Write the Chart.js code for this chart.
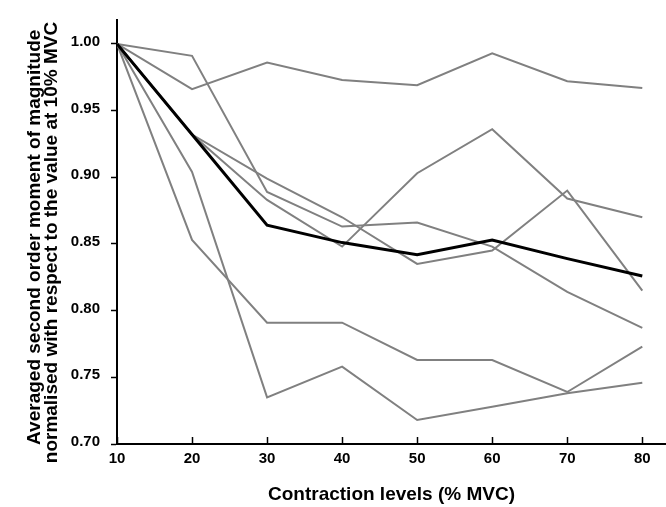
<!DOCTYPE html>
<html>
<head>
<meta charset="utf-8">
<script src="https://cdn.jsdelivr.net/npm/chart.js@4.4.1/dist/chart.umd.min.js"></script>
<style>
  html, body { margin: 0; padding: 0; background: #ffffff; }
  #wrap { position: relative; width: 666px; height: 507px; }
</style>
</head>
<body>
<div id="wrap"><canvas id="c"></canvas></div>
<script>
// ---- data ----
const levels = [10, 20, 30, 40, 50, 60, 70, 80];
const meanSeries = [1.000, 0.932, 0.864, 0.851, 0.842, 0.853, 0.839, 0.826];
const subject1 = [1.000, 0.966, 0.986, 0.973, 0.969, 0.993, 0.972, 0.967];
const subject2 = [1.000, 0.991, 0.889, 0.863, 0.866, 0.848, 0.814, 0.787];
const subject3 = [1.000, 0.932, 0.883, 0.848, 0.903, 0.936, 0.884, 0.870];
const subject4 = [1.000, 0.932, 0.899, 0.870, 0.835, 0.845, 0.890, 0.815];
const subject5 = [1.000, 0.853, 0.791, 0.791, 0.763, 0.763, 0.739, 0.773];
const subject6 = [1.000, 0.904, 0.735, 0.758, 0.718, 0.728, 0.738, 0.746];
const xTickValues = [10, 20, 30, 40, 50, 60, 70, 80];
const yTickValues = [0.70, 0.75, 0.80, 0.85, 0.90, 0.95, 1.00];
const xTitle = 'Contraction levels (% MVC)';
// trailing spaces only nudge each rotated line toward the bottom, as in the reference
const yTitle = ['Averaged second order moment of magnitude  ', 'normalised with respect to the value at 10% MVC    '];

const FONT = '"Liberation Sans", Arial, Helvetica, sans-serif';
const toPts = arr => levels.map((x, i) => ({ x: x, y: arr[i] }));

const grey = '#808080';
const subjects = [subject1, subject2, subject3, subject4, subject5, subject6];
const datasets = [{
  label: 'Mean',
  data: toPts(meanSeries),
  borderColor: '#000000',
  borderWidth: 3,
  pointRadius: 0,
  tension: 0,
  fill: false
}].concat(subjects.map((s, k) => ({
  label: 'Subject ' + (k + 1),
  data: toPts(s),
  borderColor: grey,
  borderWidth: 2,
  pointRadius: 0,
  tension: 0,
  fill: false
})));

// draws x tick marks pointing into the plot area, using the x scale
const innerXTicks = {
  id: 'innerXTicks',
  afterDraw(chart) {
    const xs = chart.scales.x;
    const ctx = chart.ctx;
    const bottom = chart.chartArea.bottom;
    ctx.save();
    ctx.strokeStyle = '#000000';
    ctx.lineWidth = 1.5;
    xTickValues.forEach(v => {
      const px = Math.round(xs.getPixelForValue(v)) + 0.5;
      ctx.beginPath();
      ctx.moveTo(px, bottom);
      ctx.lineTo(px, bottom - 7);
      ctx.stroke();
    });
    ctx.restore();
  }
};

new Chart(document.getElementById('c'), {
  type: 'line',
  data: { datasets: datasets },
  options: {
    responsive: true,
    maintainAspectRatio: false,
    animation: false,
    layout: { padding: { top: 17, right: 0, bottom: 0, left: 0 } },
    plugins: {
      legend: { display: false },
      tooltip: { enabled: false }
    },
    scales: {
      x: {
        type: 'linear',
        min: 10,
        max: 83.16,
        afterFit(s) { s.height = 63; },
        afterBuildTicks(s) { s.ticks = xTickValues.map(v => ({ value: v })); },
        border: { display: true, color: '#000000', width: 2 },
        grid: { display: true, drawOnChartArea: false, drawTicks: false },
        ticks: {
          color: '#000000',
          padding: 6,
          font: { family: FONT, size: 15, weight: 'bold' },
          callback: v => String(v)
        },
        title: {
          display: true,
          text: xTitle,
          color: '#000000',
          font: { family: FONT, size: 19, weight: 'bold' },
          padding: { top: 0, bottom: 1 }
        }
      },
      y: {
        type: 'linear',
        min: 0.70,
        max: 1.0179,
        afterFit(s) { s.width = 117; },
        afterBuildTicks(s) { s.ticks = yTickValues.map(v => ({ value: v })); },
        border: { display: true, color: '#000000', width: 2 },
        grid: { display: true, drawOnChartArea: false, drawTicks: true, tickLength: 6, color: '#000000', tickWidth: 1.5 },
        ticks: {
          color: '#000000',
          padding: 11,
          labelOffset: -2,
          font: { family: FONT, size: 15, weight: 'bold' },
          callback: v => Number(v).toFixed(2)
        },
        title: {
          display: true,
          text: yTitle,
          color: '#000000',
          font: { family: FONT, size: 19, weight: 'bold', lineHeight: 17 / 19 },
          padding: { top: 26, bottom: 0 }
        }
      }
    }
  },
  plugins: [innerXTicks]
});
</script>
</body>
</html>
